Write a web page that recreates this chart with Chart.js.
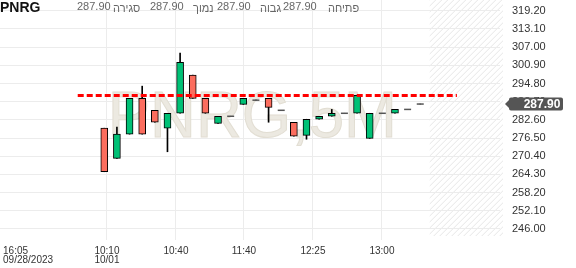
<!DOCTYPE html>
<html>
<head>
<meta charset="utf-8">
<script src="https://cdn.jsdelivr.net/npm/chart.js@4.4.0/dist/chart.umd.min.js"></script>
<style>
	html, body { margin: 0; padding: 0; background: #fff; }
	#wrap { position: relative; width: 576px; height: 268px; overflow: hidden; font-family: Arial, "Liberation Sans", sans-serif; }
	#wrap canvas { position: absolute; left: 0; top: 0; }
	.hd { position: absolute; top: 1px; font-size: 11px; line-height: 11px; color: #666; white-space: nowrap; }
	.lb { top: 3px; }
	#sym { left: 0; top: 0; font-size: 14px; line-height: 14px; font-weight: bold; color: #111; }
</style>
</head>
<body>
<div id="wrap">
	<canvas id="chart" width="576" height="268"></canvas>
	<div class="hd" id="sym"></div>
	<div class="hd" id="vClose" style="left:77px"></div>
	<div class="hd lb" style="left:113px">סגירה</div>
	<div class="hd" id="vLow" style="left:150px"></div>
	<div class="hd lb" style="left:193px">נמוך</div>
	<div class="hd" id="vHigh" style="left:217px"></div>
	<div class="hd lb" style="left:260px">גבוה</div>
	<div class="hd" id="vOpen" style="left:283px"></div>
	<div class="hd lb" style="left:328px">פתיחה</div>
</div>
<script>
(function () {
	/*global Chart */

	var symbol = 'PNRG';
	var interval = '5M';

	// 5 minute bars, one slot per traded bar
	var opens  = [279.8, 269.7, 277.8, 289.8, 285.8, 279.8, 284.8, 297.6, 289.8, 281.4, 283.8, 287.8, 289.2, 289.8, 285.8, 281.8, 277.4, 282.8, 283.8, 284.8, 284.8, 276.4, 284.8, 284.8, 286.1, 287.9];
	var highs  = [279.8, 280.2, 289.8, 293.9, 285.8, 284.8, 305.0, 297.6, 289.8, 283.8, 283.8, 289.8, 289.2, 289.8, 285.8, 281.8, 282.8, 283.8, 286.1, 284.8, 290.8, 284.8, 284.8, 286.1, 286.1, 287.9];
	var lows   = [265.2, 269.7, 277.8, 277.8, 281.8, 271.9, 284.8, 289.8, 284.8, 281.4, 283.8, 287.8, 289.2, 281.8, 285.8, 277.1, 276.1, 282.8, 283.8, 284.8, 284.8, 276.4, 284.8, 284.8, 286.1, 287.9];
	var closes = [265.2, 277.8, 289.8, 277.8, 281.8, 284.8, 301.9, 289.8, 284.8, 283.8, 283.8, 289.8, 289.2, 286.8, 285.8, 277.1, 282.8, 283.8, 284.8, 284.8, 290.8, 284.8, 284.8, 286.1, 286.1, 287.9];

	// reference level (dashed red line) and the bar range it covers
	var baseLevel = 290.8;
	var baseFrom = -2.1;
	var baseTo = 27.9;

	var yTicks = [246.0, 252.1, 258.2, 264.3, 270.4, 276.5, 282.6, 288.7, 294.8, 300.9, 307.0, 313.1, 319.2];
	var xTicks = [-8.01, 0.21, 5.67, 11.05, 16.51, 21.97];
	var xLabels = [['16:05', '09/28/2023'], ['10:10', '10/01'], '10:40', '11:40', '12:25', '13:00'];

	var last = closes.length - 1;

	// Header
	document.getElementById('sym').textContent = symbol;
	document.getElementById('vClose').textContent = closes[last].toFixed(2);
	document.getElementById('vLow').textContent = lows[last].toFixed(2);
	document.getElementById('vHigh').textContent = highs[last].toFixed(2);
	document.getElementById('vOpen').textContent = opens[last].toFixed(2);

	// Split the bars into bodies, wicks and dojis
	var bodyData = [], bodyColors = [], wickData = [], dojiData = [];
	for (var i = 0; i < closes.length; i++) {
		wickData.push({ x: i, y: [lows[i], highs[i]] });
		if (opens[i] === closes[i]) {
			dojiData.push({ x: i, y: closes[i] });
		} else {
			bodyData.push({ x: i, y: [opens[i], closes[i]] });
			bodyColors.push(closes[i] > opens[i] ? '#00c176' : '#fb6d5e');
		}
	}

	var hatchPlugin = {
		id: 'hatch',
		beforeDraw: function (chart) {
			var c = chart.ctx, a = chart.chartArea;
			var x0 = chart.scales.x.getPixelForValue(last + 0.75);
			var x1 = a.right + 3;
			c.save();
			c.beginPath();
			c.rect(x0, a.top, x1 - x0, a.bottom - a.top - 4);
			c.clip();
			c.strokeStyle = '#e6e6e6';
			c.lineWidth = 1;
			var h = a.bottom - a.top;
			for (var k = -h; k < x1 - x0; k += 6) {
				c.beginPath();
				c.moveTo(x0 + k, a.bottom);
				c.lineTo(x0 + k + h, a.top);
				c.stroke();
			}
			c.restore();
		},
	};

	// Big symbol watermark behind the candles, stretched to the reference width
	var watermarkPlugin = {
		id: 'watermark',
		beforeDatasetsDraw: function (chart) {
			var c = chart.ctx;
			var text = symbol + ',' + interval;
			c.save();
			c.font = '64px Arial, "Liberation Sans", sans-serif';
			c.textAlign = 'left';
			c.textBaseline = 'alphabetic';
			var m = c.measureText(text);
			var sx = 280 / (m.actualBoundingBoxLeft + m.actualBoundingBoxRight);
			c.translate(112.7 + m.actualBoundingBoxLeft * sx, 137);
			c.scale(sx, 1);
			c.fillStyle = '#ece9e1';
			c.strokeStyle = '#e2ded3';
			c.lineWidth = 1;
			c.fillText(text, 0, 0);
			c.strokeText(text, 0, 0);
			c.restore();
		},
	};

	var priceTagPlugin = {
		id: 'priceTag',
		afterDraw: function (chart) {
			var c = chart.ctx;
			var y = Math.round(chart.scales.y.getPixelForValue(closes[last]));
			var l = 509, r = 563, t = y - 6.5, b = y + 6.5, rad = 2;
			c.save();
			c.fillStyle = '#555';
			c.beginPath();
			c.moveTo(505, y);
			c.lineTo(l, y - 4);
			c.lineTo(l, t + rad);
			c.quadraticCurveTo(l, t, l + rad, t);
			c.lineTo(r - rad, t);
			c.quadraticCurveTo(r, t, r, t + rad);
			c.lineTo(r, b - rad);
			c.quadraticCurveTo(r, b, r - rad, b);
			c.lineTo(l + rad, b);
			c.quadraticCurveTo(l, b, l, b - rad);
			c.lineTo(l, y + 4);
			c.closePath();
			c.fill();
			c.fillStyle = '#fff';
			c.font = 'bold 12px Arial, "Liberation Sans", sans-serif';
			c.textAlign = 'center';
			c.textBaseline = 'middle';
			c.fillText(closes[last].toFixed(2), 542, y + 0.5);
			c.restore();
		},
	};

	var gridColor = '#ececec';

	new Chart(document.getElementById('chart'), {
		type: 'bar',
		data: {
			datasets: [
				{
					type: 'line',
					data: [{ x: baseFrom, y: baseLevel }, { x: baseTo, y: baseLevel }],
					borderColor: '#ff0000',
					borderWidth: 3,
					borderDash: [6, 3],
					pointRadius: 0,
					order: 0,
				},
				{
					type: 'scatter',
					data: dojiData,
					pointStyle: 'line',
					pointRadius: 3.5,
					pointBorderColor: '#555',
					pointBackgroundColor: '#555',
					pointBorderWidth: 1.5,
					order: 1,
				},
				{
					data: bodyData,
					backgroundColor: bodyColors,
					borderColor: '#000',
					borderWidth: 1,
					borderSkipped: false,
					barThickness: 7,
					grouped: false,
					order: 2,
				},
				{
					data: wickData,
					backgroundColor: '#000',
					borderWidth: 0,
					barThickness: 1,
					grouped: false,
					order: 3,
				},
			],
		},
		options: {
			responsive: false,
			animation: false,
			devicePixelRatio: 1,
			layout: { padding: 0, autoPadding: false },
			plugins: {
				legend: { display: false },
				tooltip: { enabled: false },
			},
			scales: {
				x: {
					type: 'linear',
					min: -8.25,
					max: 31.31,
					offset: false,
					afterBuildTicks: function (s) {
						s.ticks = xTicks.map(function (v) { return { value: v }; }).concat([{ value: s.max }]);
					},
					ticks: {
						autoSkip: false,
						maxRotation: 0,
						align: 'inner',
						padding: 7,
						color: '#333',
						font: { family: 'Arial, "Liberation Sans", sans-serif', size: 10, lineHeight: '9px' },
						callback: function (v, idx) {
							return idx < xLabels.length ? xLabels[idx] : '';
						},
					},
					grid: {
						offset: false,
						drawTicks: false,
						color: function (ctx) {
							return ctx.index === 0 || ctx.index === xLabels.length ? 'rgba(0,0,0,0)' : gridColor;
						},
					},
					border: { display: false },
					afterFit: function (s) {
						s.height = 28;
						s.paddingLeft = 0;
						s.paddingRight = 0;
					},
				},
				y: {
					type: 'linear',
					position: 'right',
					min: 242.31,
					max: 322.79,
					afterBuildTicks: function (s) {
						s.ticks = yTicks.map(function (v) { return { value: v }; });
					},
					ticks: {
						padding: 12,
						color: '#333',
						font: { family: 'Arial, "Liberation Sans", sans-serif', size: 11 },
						callback: function (v) { return v.toFixed(2); },
					},
					grid: { drawTicks: false, color: gridColor },
					border: { display: false },
					afterFit: function (s) {
						s.width = 76;
						s.paddingTop = 0;
						s.paddingBottom = 0;
					},
				},
			},
		},
		plugins: [hatchPlugin, watermarkPlugin, priceTagPlugin],
	});
})();
</script>
</body>
</html>
